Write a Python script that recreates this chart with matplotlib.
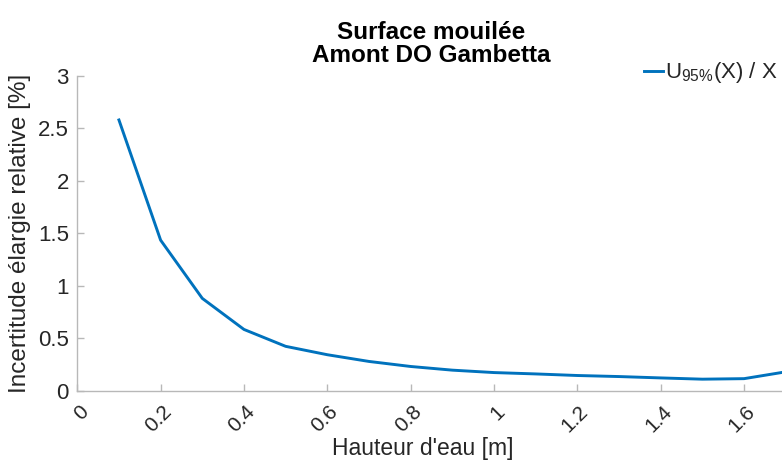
import matplotlib
matplotlib.use("Agg")
import matplotlib.pyplot as plt
from matplotlib.transforms import ScaledTranslation

plt.rcParams["font.family"] = ["Liberation Sans", "DejaVu Sans"]
plt.rcParams["mathtext.fontset"] = "custom"
plt.rcParams["mathtext.rm"] = "Liberation Sans"

# relative expanded uncertainty of the wetted area vs water height
hauteur = [0.1, 0.2, 0.3, 0.4, 0.5, 0.6, 0.7, 0.8, 0.9, 1.0,
           1.1, 1.2, 1.3, 1.4, 1.5, 1.6, 1.7]
incertitude = [2.58, 1.435, 0.88, 0.584, 0.423, 0.343, 0.279, 0.231, 0.196, 0.173,
               0.16, 0.145, 0.135, 0.122, 0.11, 0.115, 0.18]

x_ticks = [0, 0.2, 0.4, 0.6, 0.8, 1.0, 1.2, 1.4, 1.6]
x_tick_labels = ["0", "0.2", "0.4", "0.6", "0.8", "1", "1.2", "1.4", "1.6"]
y_ticks = [0, 0.5, 1, 1.5, 2, 2.5, 3]
y_tick_labels = ["0", "0.5", "1", "1.5", "2", "2.5", "3"]

text_col = "#262626"
axis_col = "#b8b8b8"

fig = plt.figure(figsize=(7.82, 4.72), dpi=100)
ax = fig.add_axes([0.0988, 0.1722, 0.906, 0.667])

ax.plot(hauteur, incertitude, color="#0072BD", lw=2.1,
        label=r"$\mathregular{U_{95\%}}$(X) / X")

ax.set_xlim(0, 1.7)
ax.set_ylim(0, 3)
ax.set_xticks(x_ticks)
ax.set_xticklabels(x_tick_labels, rotation=45, ha="right", va="center",
                   rotation_mode="anchor")
ax.set_yticks(y_ticks)
ax.set_yticklabels(y_tick_labels)

for s in ["top", "right"]:
    ax.spines[s].set_visible(False)
for s in ["left", "bottom"]:
    ax.spines[s].set_color(axis_col)
    ax.spines[s].set_linewidth(1.0)

ax.tick_params(direction="in", length=5, width=1.0, color=axis_col,
               labelcolor=text_col, labelsize=16)
ax.tick_params(axis="x", labelsize=15, pad=0)
ax.tick_params(axis="y", pad=6)

# rotated x labels: end of the text sits just below-right of the tick
shift = ScaledTranslation(0.08, -0.18, fig.dpi_scale_trans)
for lab in ax.get_xticklabels():
    lab.set_transform(lab.get_transform() + shift)

ax.set_xlabel("Hauteur d'eau [m]", fontsize=16.5, color=text_col)
ax.xaxis.set_label_coords(0.487, -0.148)
ax.set_ylabel("Incertitude élargie relative [%]", fontsize=17.5, color=text_col,
              labelpad=5)
ax.set_title("Surface mouilée\nAmont DO Gambetta", fontsize=17.5,
             fontweight="bold", color="black", linespacing=1.0, pad=10)

ax.legend(loc="upper right", bbox_to_anchor=(0.995, 0.872),
          bbox_transform=fig.transFigure, frameon=False, fontsize=16,
          handlelength=0.85, handletextpad=0.1, borderpad=0, borderaxespad=0,
          labelcolor=text_col)

fig.savefig("out.png", dpi=100)
